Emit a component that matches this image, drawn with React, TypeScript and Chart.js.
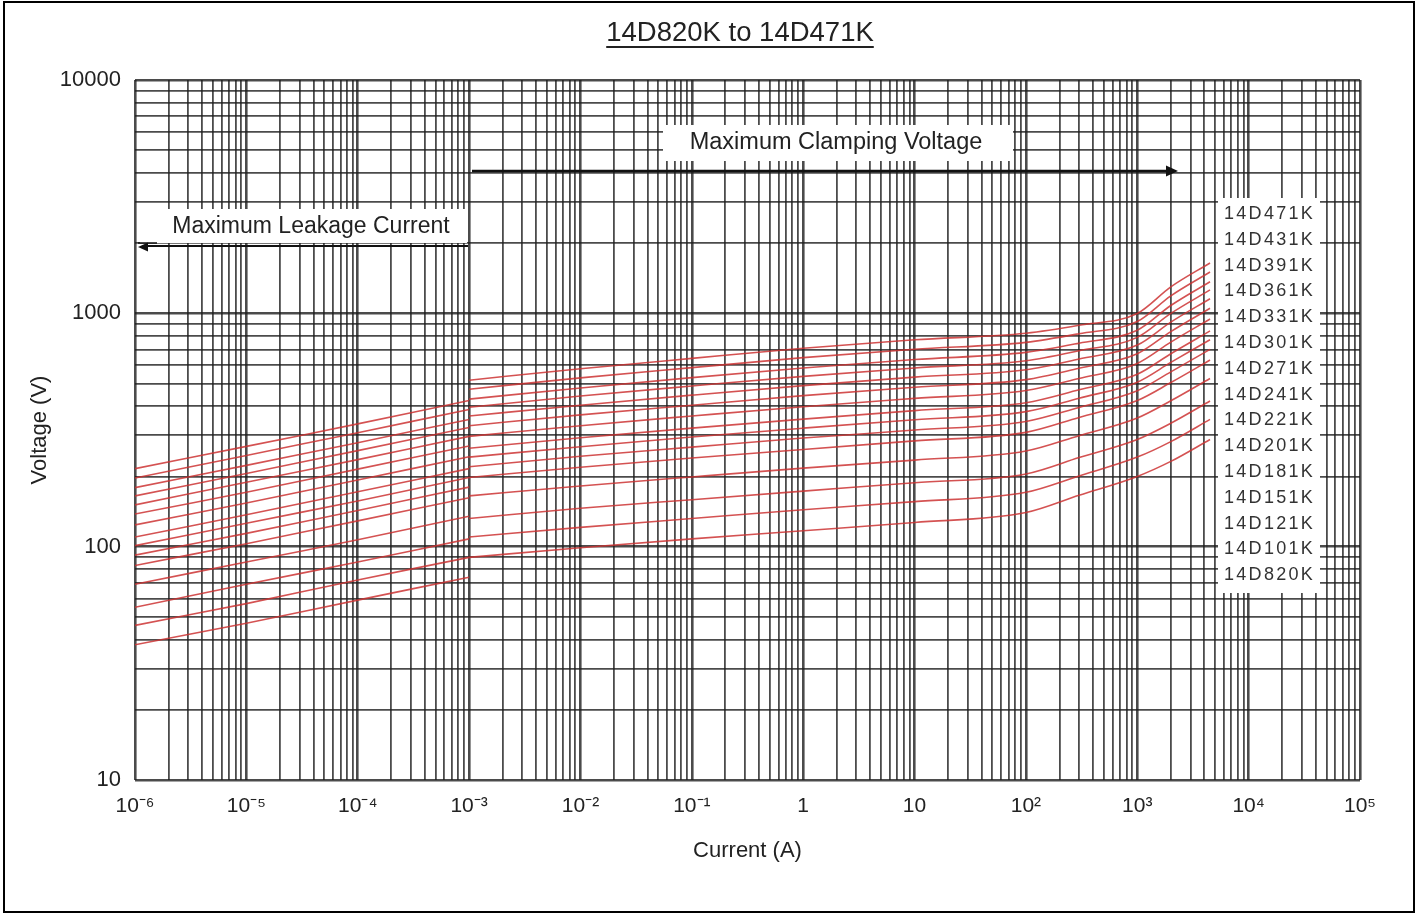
import React, { useEffect, useRef } from 'react';
import { Chart, registerables } from 'chart.js';

Chart.register(...registerables);

// Series names (bottom to top)
const SERIES = [
  '14D820K', '14D101K', '14D121K', '14D151K', '14D181K', '14D201K', '14D221K', '14D241K',
  '14D271K', '14D301K', '14D331K', '14D361K', '14D391K', '14D431K', '14D471K',
];

// Maximum leakage current region: current (A) and voltage (V) per series
const LEAK_CURRENT = [1e-6, 1e-5, 1e-4, 1e-3];
const LEAK_V = [
  [38, 47, 59, 74],
  [46, 57, 72, 90],
  [55, 69, 86, 108],
  [69, 86, 107, 135],
  [83, 103, 129, 162],
  [92, 114, 143, 180],
  [101, 126, 157, 198],
  [110, 137, 172, 216],
  [124, 154, 193, 243],
  [138, 171, 215, 270],
  [151, 189, 236, 297],
  [165, 206, 258, 324],
  [179, 223, 279, 351],
  [197, 246, 308, 387],
  [216, 269, 336, 423],
];

// Maximum clamping voltage region: current (A) and voltage (V) per series
const CLAMP_CURRENT = [1e-3, 1e-2, 1e-1, 1, 10, 100, 300, 1000, 2000, 4500];
const CLAMP_V = [
  [90, 99, 108, 117, 127, 140, 166, 200, 232, 288],
  [110, 121, 132, 144, 156, 171, 201, 242, 282, 351],
  [132, 146, 159, 173, 188, 205, 241, 288, 338, 421],
  [165, 182, 199, 217, 235, 257, 299, 356, 422, 526],
  [198, 219, 240, 261, 284, 309, 358, 423, 505, 631],
  [220, 244, 267, 292, 316, 344, 395, 466, 561, 701],
  [242, 268, 295, 322, 350, 379, 433, 507, 616, 771],
  [264, 293, 322, 352, 383, 414, 470, 548, 671, 841],
  [297, 330, 363, 398, 432, 467, 526, 610, 753, 946],
  [330, 367, 404, 444, 482, 520, 582, 671, 835, 1051],
  [363, 404, 446, 490, 533, 573, 637, 731, 917, 1155],
  [396, 442, 488, 537, 583, 626, 691, 789, 999, 1260],
  [429, 479, 530, 583, 634, 680, 745, 846, 1080, 1365],
  [473, 529, 585, 646, 702, 751, 818, 923, 1189, 1504],
  [517, 579, 641, 708, 770, 822, 889, 998, 1298, 1644],
];

// Axis decades and tick labels
const X_EXPONENTS = [-6, -5, -4, -3, -2, -1, 0, 1, 2, 3, 4, 5];
const X_TICK_LABELS = ['10⁻⁶', '10⁻⁵', '10⁻⁴', '10⁻³', '10⁻²', '10⁻¹', '1', '10', '10²', '10³', '10⁴', '10⁵'];
const Y_EXPONENTS = [1, 2, 3, 4];
const Y_TICK_LABELS = ['10', '100', '1000', '10000'];

const TITLE = '14D820K to 14D471K';
const X_TITLE = 'Current (A)';
const Y_TITLE = 'Voltage (V)';
const LEAK_NOTE = 'Maximum Leakage Current';
const CLAMP_NOTE = 'Maximum Clamping Voltage';

const FONT = '"Liberation Sans", Arial, Helvetica, sans-serif';
const LINE_COLOR = 'rgba(204, 52, 52, 0.85)';
const GRID_COLOR = 'rgba(30, 30, 30, 0.8)';

function decadeIndex(value: number, exps: number[]): number {
  const l = Math.log10(value);
  const r = Math.round(l);
  if (Math.abs(l - r) > 1e-6) return -1;
  return exps.indexOf(r);
}

function buildLogTicks(exps: number[]) {
  const ticks: { value: number; major: boolean }[] = [];
  for (let i = 0; i < exps.length - 1; i++) {
    const base = Math.pow(10, exps[i]);
    for (let m = 1; m <= 9; m++) {
      ticks.push({ value: parseFloat((m * base).toPrecision(6)), major: m === 1 });
    }
  }
  ticks.push({ value: Math.pow(10, exps[exps.length - 1]), major: true });
  return ticks;
}

const annotationPlugin = {
  id: 'vdrAnnotations',
  afterDatasetsDraw(chart: any) {
    const ctx: CanvasRenderingContext2D = chart.ctx;
    ctx.save();

    // Leakage note box and arrow
    ctx.fillStyle = '#ffffff';
    ctx.fillRect(140, 209, 327, 34);
    ctx.fillStyle = '#222';
    ctx.font = `23px ${FONT}`;
    ctx.textAlign = 'center';
    ctx.textBaseline = 'middle';
    ctx.fillText(LEAK_NOTE, 311, 227);

    ctx.strokeStyle = '#111';
    ctx.lineWidth = 2;
    ctx.beginPath();
    ctx.moveTo(468, 246);
    ctx.lineTo(146, 246);
    ctx.stroke();
    ctx.lineWidth = 1.5;
    ctx.beginPath();
    ctx.moveTo(138, 243);
    ctx.lineTo(157, 243);
    ctx.stroke();
    ctx.fillStyle = '#111';
    ctx.beginPath();
    ctx.moveTo(138, 247);
    ctx.lineTo(148, 242.5);
    ctx.lineTo(148, 251.5);
    ctx.closePath();
    ctx.fill();

    // Clamping note box and arrow
    ctx.fillStyle = '#ffffff';
    ctx.fillRect(663, 125, 350, 36);
    ctx.fillStyle = '#222';
    ctx.font = `23.5px ${FONT}`;
    ctx.fillText(CLAMP_NOTE, 836, 143);

    ctx.strokeStyle = '#111';
    ctx.lineWidth = 2.5;
    ctx.beginPath();
    ctx.moveTo(472, 171);
    ctx.lineTo(1168, 171);
    ctx.stroke();
    ctx.fillStyle = '#111';
    ctx.beginPath();
    ctx.moveTo(1178, 171);
    ctx.lineTo(1166, 165.5);
    ctx.lineTo(1166, 176.5);
    ctx.closePath();
    ctx.fill();

    // Series label column
    ctx.fillStyle = '#ffffff';
    ctx.fillRect(1218, 198, 102, 395);
    ctx.fillStyle = '#333';
    ctx.font = `18px ${FONT}`;
    ctx.textAlign = 'left';
    ctx.textBaseline = 'middle';
    try {
      (ctx as any).letterSpacing = '2.3px';
    } catch (e) {
      /* ignore */
    }
    const top = [...SERIES].reverse();
    top.forEach((name, i) => {
      ctx.fillText(name, 1224, 214 + i * 25.8);
    });
    ctx.restore();
  },
};

export default function App() {
  const canvasRef = useRef<HTMLCanvasElement | null>(null);

  useEffect(() => {
    document.body.style.margin = '0';
    const canvas = canvasRef.current;
    if (!canvas) return;

    const datasets: any[] = [];
    SERIES.forEach((name, k) => {
      datasets.push({
        label: `${name} leakage`,
        data: LEAK_CURRENT.map((x, i) => ({ x, y: LEAK_V[k][i] })),
        borderColor: LINE_COLOR,
        borderWidth: 1.6,
        pointRadius: 0,
        showLine: true,
        tension: 0.2,
      });
      datasets.push({
        label: `${name} clamping`,
        data: CLAMP_CURRENT.map((x, i) => ({ x, y: CLAMP_V[k][i] })),
        borderColor: LINE_COLOR,
        borderWidth: 1.6,
        pointRadius: 0,
        showLine: true,
        cubicInterpolationMode: 'monotone',
      });
    });

    const chart = new Chart(canvas, {
      type: 'scatter',
      data: { datasets },
      plugins: [annotationPlugin],
      options: {
        animation: false,
        responsive: false,
        devicePixelRatio: 1,
        layout: { padding: { left: 0, top: 80, right: 58, bottom: 0 } },
        plugins: {
          legend: { display: false },
          tooltip: { enabled: false },
          title: { display: false },
        },
        scales: {
          x: {
            type: 'logarithmic',
            min: 1e-6,
            max: 1e5,
            afterBuildTicks: (scale: any) => {
              scale.ticks = buildLogTicks(X_EXPONENTS);
            },
            afterFit: (scale: any) => {
              scale.height = 134;
            },
            border: { display: false },
            grid: {
              color: GRID_COLOR,
              lineWidth: (c: any) => (c.tick && decadeIndex(c.tick.value, X_EXPONENTS) >= 0 ? 2.6 : 1.8),
              drawTicks: false,
            },
            ticks: {
              autoSkip: false,
              maxRotation: 0,
              padding: 14,
              color: '#222',
              font: { family: FONT, size: 21 },
              callback: (value: any) => {
                const i = decadeIndex(Number(value), X_EXPONENTS);
                return i >= 0 ? X_TICK_LABELS[i] : '';
              },
            },
            title: {
              display: true,
              text: X_TITLE,
              color: '#222',
              font: { family: FONT, size: 22 },
              padding: { top: 0, bottom: 50 },
            },
          },
          y: {
            type: 'logarithmic',
            min: 10,
            max: 10000,
            afterBuildTicks: (scale: any) => {
              scale.ticks = buildLogTicks(Y_EXPONENTS);
            },
            afterFit: (scale: any) => {
              scale.width = 135;
            },
            border: { display: false },
            grid: {
              color: GRID_COLOR,
              lineWidth: (c: any) => (c.tick && decadeIndex(c.tick.value, Y_EXPONENTS) >= 0 ? 2.6 : 1.8),
              drawTicks: false,
            },
            ticks: {
              autoSkip: false,
              padding: 14,
              color: '#222',
              font: { family: FONT, size: 22 },
              callback: (value: any) => {
                const i = decadeIndex(Number(value), Y_EXPONENTS);
                return i >= 0 ? Y_TICK_LABELS[i] : '';
              },
            },
            title: {
              display: true,
              text: Y_TITLE,
              color: '#222',
              font: { family: FONT, size: 22 },
              padding: { top: 27, bottom: 0 },
            },
          },
        },
      } as any,
    });

    return () => {
      chart.destroy();
    };
  }, []);

  return (
    <div style={{ position: 'relative', width: 1418, height: 914, background: '#fff', overflow: 'hidden' }}>
      <canvas
        ref={canvasRef}
        width={1418}
        height={914}
        style={{ position: 'absolute', left: 0, top: 0, width: 1418, height: 914 }}
      />
      <div
        style={{
          position: 'absolute',
          left: 540,
          top: 13,
          width: 400,
          textAlign: 'center',
          fontFamily: FONT,
          fontSize: 27.5,
          lineHeight: '38px',
          color: '#222',
          textDecoration: 'underline',
          textDecorationThickness: '1.5px',
          textUnderlineOffset: '5px',
        }}
      >
        {TITLE}
      </div>
      <div
        style={{
          position: 'absolute',
          left: 3,
          top: 1,
          width: 1408,
          height: 908,
          border: '2px solid #000',
          pointerEvents: 'none',
        }}
      />
    </div>
  );
}
